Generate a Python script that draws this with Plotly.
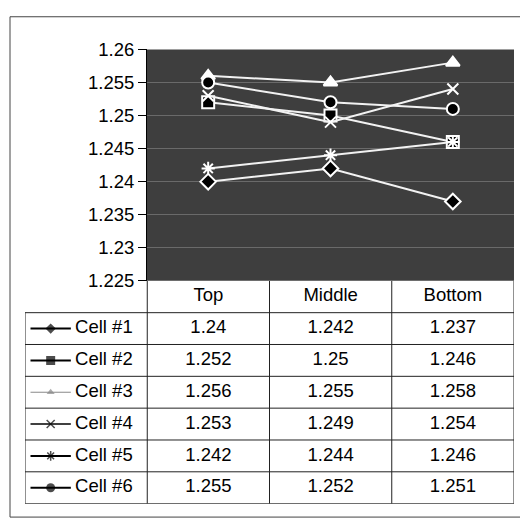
import plotly.graph_objects as go

categories = ["Top", "Middle", "Bottom"]
series_names = ["Cell #1", "Cell #2", "Cell #3", "Cell #4", "Cell #5", "Cell #6"]
cell1 = [1.24, 1.242, 1.237]
cell2 = [1.252, 1.25, 1.246]
cell3 = [1.256, 1.255, 1.258]
cell4 = [1.253, 1.249, 1.254]
cell5 = [1.242, 1.244, 1.246]
cell6 = [1.255, 1.252, 1.251]
value_text = [
    ["1.24", "1.242", "1.237"],
    ["1.252", "1.25", "1.246"],
    ["1.256", "1.255", "1.258"],
    ["1.253", "1.249", "1.254"],
    ["1.242", "1.244", "1.246"],
    ["1.255", "1.252", "1.251"],
]
y_tick_vals = [1.225, 1.23, 1.235, 1.24, 1.245, 1.25, 1.255, 1.26]
y_tick_text = ["1.225", "1.23", "1.235", "1.24", "1.245", "1.25", "1.255", "1.26"]

series_values = [cell1, cell2, cell3, cell4, cell5, cell6]

W, H = 520, 529
FONT = "Liberation Sans, Arial, sans-serif"
FS = 18.5

def px(x):
    return x / W

def py(y):
    return 1 - y / H

# marker styles: (symbol, plot fill, plot outline, legend line color, legend line width, legend size)
styles = [
    ("diamond", "black", "white", "black", 2, 8),
    ("square", "black", "white", "black", 2, 9),
    ("triangle-up", "white", "white", "#888888", 1, 7),
    ("x-thin-open", "white", "white", "black", 1.5, 8),
    ("asterisk-open", "white", "white", "black", 2, 8),
    ("circle", "black", "white", "black", 2, 9),
]

fig = go.Figure()

# main chart
for name, vals, st in zip(series_names, series_values, styles):
    sym, fill, outline, lc, lw, ls = st
    open_sym = sym.endswith("-open")
    fig.add_trace(go.Scatter(
        x=categories, y=vals, mode="lines+markers", name=name,
        line=dict(color="#f2f2f2", width=2),
        marker=dict(symbol=sym, size=12 if not open_sym else 11,
                    color=fill if not open_sym else "white",
                    line=dict(color=outline if not open_sym else "white", width=2)),
        xaxis="x", yaxis="y", showlegend=False, hoverinfo="skip",
    ))

# table: header
fig.add_trace(go.Scatter(
    x=list(range(len(categories))), y=[0.5] * len(categories),
    text=categories, mode="text", textposition="middle center",
    textfont=dict(family=FONT, size=FS, color="black"),
    xaxis="x2", yaxis="y2", showlegend=False, hoverinfo="skip",
))

# table: values
for r, row in enumerate(value_text):
    fig.add_trace(go.Scatter(
        x=list(range(len(row))), y=[r + 1.5] * len(row),
        text=row, mode="text", textposition="middle center",
        textfont=dict(family=FONT, size=FS, color="black"),
        xaxis="x2", yaxis="y2", showlegend=False, hoverinfo="skip",
    ))

# table: legend key column
for r, (name, st) in enumerate(zip(series_names, styles)):
    sym, fill, outline, lc, lw, ls = st
    open_sym = sym.endswith("-open")
    yy = r + 1.5
    fig.add_trace(go.Scatter(
        x=[-1.455, -1.29, -1.125], y=[yy, yy, yy], mode="lines+markers",
        line=dict(color=lc, width=lw),
        marker=dict(symbol=sym, size=[0, ls, 0],
                    color=("#888888" if r == 2 else "black"),
                    line=dict(color=("#888888" if r == 2 else "black"), width=1.5 if open_sym else 0)),
        xaxis="x2", yaxis="y2", showlegend=False, hoverinfo="skip",
    ))
    fig.add_trace(go.Scatter(
        x=[-1.09], y=[yy], text=[name], mode="text", textposition="middle right",
        textfont=dict(family=FONT, size=FS, color="black"),
        xaxis="x2", yaxis="y2", showlegend=False, hoverinfo="skip",
    ))

shapes = []
# dark plot background
shapes.append(dict(type="rect", xref="x domain", yref="y domain", x0=0, x1=1, y0=0, y1=1,
                   fillcolor="#3e3e3e", line=dict(width=0), layer="below"))
# table grid
gl = dict(color="#222222", width=1)
nrows = len(series_names)
for k in range(1, nrows + 2):
    shapes.append(dict(type="line", xref="x2", yref="y2", x0=-1.5,
                       x1=2.5, y0=k, y1=k, line=gl))
for xv in [-0.5, 0.5, 1.5, 2.5]:
    shapes.append(dict(type="line", xref="x2", yref="y2", x0=xv, x1=xv, y0=0, y1=nrows + 1, line=gl))
shapes.append(dict(type="line", xref="x2", yref="y2", x0=-1.5, x1=-1.5, y0=1, y1=nrows + 1, line=gl))
# outer frame
shapes.append(dict(type="rect", xref="paper", yref="paper", x0=px(10), x1=px(522), y0=py(527), y1=py(6),
                   line=dict(color="#444444", width=1), fillcolor="rgba(0,0,0,0)"))

fig.update_layout(
    width=W, height=H,
    margin=dict(l=0, r=0, t=0, b=0),
    paper_bgcolor="white", plot_bgcolor="rgba(0,0,0,0)",
    font=dict(family=FONT, size=FS, color="black"),
    shapes=shapes,
    xaxis=dict(domain=[px(147), px(514)], type="category", range=[-0.5, 2.5],
               showticklabels=False, ticks="", showgrid=False, zeroline=False, showline=False,
               fixedrange=True),
    yaxis=dict(domain=[py(281), py(40)], range=[1.225, 1.26], tickvals=y_tick_vals,
               ticktext=y_tick_text, ticks="outside", ticklen=8, tickcolor="black", tickwidth=1,
               showline=True, linecolor="black", linewidth=1,
               showgrid=True, gridcolor="#6a6a6a", gridwidth=1, zeroline=False,
               tickfont=dict(family=FONT, size=FS, color="black"), fixedrange=True),
    xaxis2=dict(domain=[px(25), px(514)], range=[-1.5, 2.5], visible=False, anchor="y2",
                fixedrange=True),
    yaxis2=dict(domain=[py(513), py(281)], range=[nrows + 1, 0], visible=False, anchor="x2",
                fixedrange=True),
)

fig.write_html("out.html")
